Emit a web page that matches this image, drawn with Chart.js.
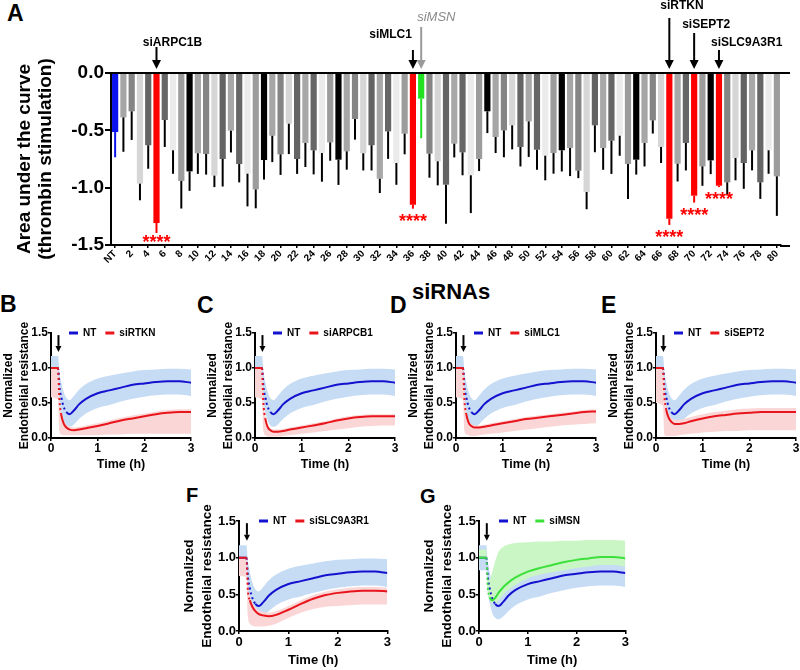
<!DOCTYPE html>
<html>
<head>
<meta charset="utf-8">
<script src="https://cdn.jsdelivr.net/npm/chart.js@4.4.1/dist/chart.umd.min.js"></script>
<style>
  body { margin: 0; background: #fff; width: 800px; height: 670px; position: relative; overflow: hidden;
         font-family: 'Liberation Sans', Arial, sans-serif; }
  canvas { position: absolute; }
  .tag { position: absolute; font-weight: bold; line-height: 1; color: #000; white-space: nowrap; }
</style>
</head>
<body>
<div class="tag" style="left:7px;top:2px;font-size:23px">A</div>
<div class="tag" style="left:0px;top:293px;font-size:23px">B</div>
<div class="tag" style="left:197px;top:294px;font-size:23px">C</div>
<div class="tag" style="left:390px;top:294px;font-size:23px">D</div>
<div class="tag" style="left:601px;top:294px;font-size:23px">E</div>
<div class="tag" style="left:186px;top:485px;font-size:20px">F</div>
<div class="tag" style="left:420px;top:486px;font-size:20px">G</div>
<div class="tag" style="left:412px;top:281px;font-size:22px">siRNAs</div>

<canvas id="auc" width="800" height="275" style="left:0;top:0"></canvas>
<canvas id="panelB" width="195" height="190" style="left:0;top:290px"></canvas>
<canvas id="panelC" width="195" height="190" style="left:204px;top:290px"></canvas>
<canvas id="panelD" width="195" height="190" style="left:405px;top:290px"></canvas>
<canvas id="panelE" width="195" height="190" style="left:605px;top:290px"></canvas>
<canvas id="panelF" width="211" height="188" style="left:181px;top:481px"></canvas>
<canvas id="panelG" width="209" height="188" style="left:421px;top:481px"></canvas>

<script>
// ---- panel A: area under the curve per siRNA ----
const sirnaLabels = ['NT','1','2','3','4','5','6','7','8','9','10','11','12','13','14','15','16','17','18','19','20',
  '21','22','23','24','25','26','27','28','29','30','31','32','33','34','35','36','37','38','39','40',
  '41','42','43','44','45','46','47','48','49','50','51','52','53','54','55','56','57','58','59','60',
  '61','62','63','64','65','66','67','68','69','70','71','72','73','74','75','76','77','78','79','80'];
const aucMean = [-0.515, -0.387, -0.334, -0.965, -0.63, -1.308, -0.41, -0.674, -0.942, -0.858, -0.70,
  -0.706, -0.895, -0.75, -0.503, -0.794, -0.878, -1.015, -0.759, -0.547, -0.709,
  -0.442, -0.75, -0.61, -0.674, -0.698, -0.605, -0.756, -0.683, -0.401, -0.70,
  -0.63, -0.922, -0.509, -0.785, -0.529, -1.148, -0.224, -0.703, -0.77, -0.974,
  -0.616, -0.692, -0.892, -0.75, -0.334, -0.558, -0.50, -0.456, -0.645, -0.422,
  -0.669, -0.721, -0.698, -0.674, -0.654, -0.852, -1.038, -0.456, -0.654, -0.59,
  -0.547, -0.794, -0.756, -0.61, -0.413, -0.645, -1.27, -0.791, -0.61, -1.07,
  -0.814, -0.762, -0.983, -0.953, -0.741, -0.785, -0.674, -0.953, -0.674, -0.901];
const aucErr = [0.22, 0.30, 0.25, 0.145, 0.205, 0.087, 0.235, 0.205, 0.24, 0.17, 0.18,
  0.18, 0.10, 0.24, 0.19, 0.16, 0.285, 0.165, 0.17, 0.23, 0.18,
  0.265, 0.13, 0.21, 0.21, 0.25, 0.16, 0.22, 0.16, 0.18, 0.15,
  0.22, 0.125, 0.24, 0.19, 0.18, 0.035, 0.345, 0.21, 0.21, 0.34,
  0.12, 0.20, 0.33, 0.105, 0.19, 0.14, 0.235, 0.21, 0.17, 0.31,
  0.175, 0.215, 0.18, 0.185, 0.245, 0.065, 0.15, 0.235, 0.19, 0.29,
  0.175, 0.305, 0.13, 0.205, 0.115, 0.14, 0.055, 0.155, 0.24, 0.06,
  0.17, 0.12, 0.012, 0.11, 0.195, 0.225, 0.175, 0.145, 0.205, 0.345];
const hitBars = [5, 36, 67, 70, 73];
const msnBar = 37;
const callouts = [
  { bar: 5,  text: 'siARPC1B',   dx: 16,  align: 'center', ty: 43, top: 47 },
  { bar: 36, text: 'siMLC1',     dx: -1,  align: 'right',  ty: 35, top: 50 },
  { bar: 37, text: 'siMSN',      dx: -4,  align: 'left',   ty: 17, top: 27, muted: true },
  { bar: 67, text: 'siRTKN',     dx: -9,  align: 'left',   ty: 6,  top: 18 },
  { bar: 70, text: 'siSEPT2',    dx: -12, align: 'left',   ty: 25, top: 33 },
  { bar: 73, text: 'siSLC9A3R1', dx: -8,  align: 'left',   ty: 43, top: 50 }
];

// ---- panels B-G: normalized resistance over time ----
const times  = [0, 0.15, 0.18, 0.22, 0.27, 0.33, 0.4, 0.5, 0.6, 0.75, 1.0, 1.25, 1.5, 1.75, 2.0, 2.25, 2.5, 2.75, 3.0];
const ntMean = [1.0, 1.0, 0.74, 0.58, 0.45, 0.37, 0.34, 0.40, 0.48, 0.56, 0.64, 0.68, 0.72, 0.76, 0.78, 0.80, 0.81, 0.81, 0.79];
const ntHigh = [1.17, 1.17, 0.95, 0.80, 0.66, 0.57, 0.54, 0.61, 0.69, 0.77, 0.85, 0.89, 0.92, 0.95, 0.97, 0.98, 0.99, 0.99, 0.98];
const ntLow  = [0.83, 0.83, 0.53, 0.38, 0.25, 0.18, 0.16, 0.20, 0.27, 0.35, 0.43, 0.47, 0.52, 0.56, 0.59, 0.61, 0.62, 0.62, 0.60];

const rtknMean = [1.0, 1.0, 0.55, 0.33, 0.21, 0.15, 0.12, 0.11, 0.12, 0.14, 0.17, 0.21, 0.25, 0.28, 0.31, 0.34, 0.36, 0.37, 0.37];
const rtknHigh = [1.0, 1.0, 0.58, 0.37, 0.25, 0.19, 0.16, 0.15, 0.16, 0.18, 0.21, 0.25, 0.29, 0.32, 0.35, 0.38, 0.40, 0.41, 0.41];
const rtknLow  = [0.58, 0.55, 0.10, 0.05, 0.04, 0.04, 0.04, 0.04, 0.04, 0.04, 0.04, 0.05, 0.05, 0.06, 0.06, 0.06, 0.06, 0.06, 0.06];

const arpcMean = [1.0, 1.0, 0.50, 0.28, 0.16, 0.11, 0.09, 0.09, 0.10, 0.12, 0.15, 0.18, 0.21, 0.25, 0.28, 0.30, 0.31, 0.31, 0.31];
const arpcHigh = [1.0, 1.0, 0.53, 0.31, 0.19, 0.14, 0.12, 0.12, 0.13, 0.15, 0.18, 0.21, 0.24, 0.28, 0.31, 0.33, 0.34, 0.34, 0.34];
const arpcLow  = [0.58, 0.55, 0.10, 0.04, 0.02, 0.02, 0.02, 0.02, 0.03, 0.04, 0.06, 0.08, 0.10, 0.12, 0.14, 0.16, 0.17, 0.18, 0.18];

const mlcMean = [1.0, 1.0, 0.55, 0.34, 0.22, 0.17, 0.15, 0.15, 0.16, 0.18, 0.21, 0.24, 0.27, 0.29, 0.31, 0.33, 0.35, 0.37, 0.38];
const mlcHigh = [1.0, 1.0, 0.58, 0.37, 0.25, 0.20, 0.18, 0.18, 0.19, 0.21, 0.24, 0.27, 0.30, 0.32, 0.34, 0.36, 0.38, 0.40, 0.41];
const mlcLow  = [0.58, 0.55, 0.10, 0.05, 0.04, 0.03, 0.03, 0.04, 0.05, 0.06, 0.08, 0.10, 0.12, 0.14, 0.16, 0.18, 0.19, 0.20, 0.21];

const septMean = [1.0, 1.0, 0.60, 0.40, 0.29, 0.23, 0.20, 0.20, 0.21, 0.24, 0.28, 0.31, 0.33, 0.35, 0.36, 0.37, 0.37, 0.37, 0.37];
const septHigh = [1.0, 1.0, 0.65, 0.46, 0.35, 0.29, 0.26, 0.26, 0.27, 0.30, 0.34, 0.37, 0.39, 0.41, 0.42, 0.43, 0.43, 0.43, 0.43];
const septLow  = [0.50, 0.45, 0.05, 0.03, 0.03, 0.03, 0.03, 0.04, 0.05, 0.06, 0.08, 0.09, 0.10, 0.10, 0.11, 0.11, 0.11, 0.11, 0.11];

const slcMean = [1.0, 1.0, 0.55, 0.42, 0.33, 0.27, 0.23, 0.21, 0.20, 0.22, 0.29, 0.37, 0.44, 0.49, 0.52, 0.54, 0.55, 0.55, 0.54];
const slcHigh = [1.0, 1.0, 0.60, 0.47, 0.38, 0.32, 0.28, 0.26, 0.25, 0.27, 0.34, 0.42, 0.49, 0.54, 0.57, 0.59, 0.60, 0.60, 0.59];
const slcLow  = [0.75, 0.73, 0.20, 0.10, 0.07, 0.06, 0.06, 0.06, 0.07, 0.10, 0.18, 0.25, 0.30, 0.33, 0.34, 0.35, 0.36, 0.36, 0.36];

const msnMean = [1.0, 1.0, 0.60, 0.46, 0.42, 0.45, 0.52, 0.60, 0.66, 0.73, 0.81, 0.86, 0.90, 0.94, 0.97, 0.99, 1.01, 1.01, 0.99];
const msnHigh = [1.11, 1.11, 0.75, 0.70, 0.80, 0.95, 1.08, 1.15, 1.18, 1.20, 1.21, 1.22, 1.22, 1.23, 1.23, 1.24, 1.24, 1.24, 1.23];
const msnLow  = [1.0, 1.0, 0.55, 0.42, 0.38, 0.38, 0.42, 0.50, 0.56, 0.63, 0.72, 0.77, 0.80, 0.83, 0.86, 0.88, 0.90, 0.90, 0.88];

const FONT = "'Liberation Sans', Arial, sans-serif";
const BLUE = '#1212cf', BLUE_BAND = '#c6dbf4';
const RED = '#e8151c', RED_BAND = '#fbd6d6';
const GREEN = '#3be03b', GREEN_BAND = '#caf6c6';
const GRAYS = ['#000000', '#a6a6a6', '#858585', '#d6d6d6', '#646464', '#a8a8a8', '#666666', '#ebebeb', '#9c9c9c'];

Chart.defaults.font.family = FONT;
Chart.defaults.color = '#000';
Chart.defaults.animation = false;

function barColor(i) {
  if (i === 0) return '#0a12ee';
  if (hitBars.includes(i)) return '#ff0000';
  if (i === msnBar) return '#22e022';
  return GRAYS[i % 9];
}
function errColor(i) {
  if (i === 0) return '#0a12ee';
  if (hitBars.includes(i)) return '#ff0000';
  if (i === msnBar) return '#22e022';
  return '#000';
}

function drawArrow(ctx, x, yTop, yTip, color, head) {
  ctx.save();
  ctx.strokeStyle = color; ctx.fillStyle = color; ctx.lineWidth = 2;
  ctx.beginPath(); ctx.moveTo(x, yTop); ctx.lineTo(x, yTip - head); ctx.stroke();
  ctx.beginPath();
  ctx.moveTo(x - head * 0.5, yTip - head); ctx.lineTo(x + head * 0.5, yTip - head); ctx.lineTo(x, yTip);
  ctx.closePath(); ctx.fill();
  ctx.restore();
}

const aucExtras = {
  id: 'aucExtras',
  afterDatasetsDraw(chart) {
    const ctx = chart.ctx, y = chart.scales.y, meta = chart.getDatasetMeta(0);
    ctx.save();
    ctx.lineWidth = 2;
    meta.data.forEach((bar, i) => {
      ctx.strokeStyle = errColor(i);
      ctx.beginPath();
      ctx.moveTo(bar.x, y.getPixelForValue(aucMean[i]));
      ctx.lineTo(bar.x, y.getPixelForValue(aucMean[i] - aucErr[i]));
      ctx.stroke();
    });
    ctx.restore();
  },
  afterDraw(chart) {
    const ctx = chart.ctx, y = chart.scales.y, area = chart.chartArea;
    const meta = chart.getDatasetMeta(0);
    ctx.save();
    ctx.strokeStyle = '#000'; ctx.lineWidth = 2;
    const y0 = y.getPixelForValue(0);
    ctx.beginPath(); ctx.moveTo(area.left, y0); ctx.lineTo(area.right + 9, y0); ctx.stroke();
    ctx.beginPath(); ctx.moveTo(area.right - 1, area.bottom + 1); ctx.lineTo(area.right + 9, area.bottom + 1); ctx.stroke();

    callouts.forEach(c => {
      const x = meta.data[c.bar].x;
      drawArrow(ctx, x, c.top, y0 - 4, c.muted ? '#9a9a9a' : '#000', 9);
      ctx.fillStyle = c.muted ? '#8a8a8a' : '#000';
      ctx.font = c.muted ? `italic 13px ${FONT}` : `bold 12px ${FONT}`;
      ctx.textAlign = c.align; ctx.textBaseline = 'middle';
      ctx.fillText(c.text, x + c.dx, c.ty);
    });

    ctx.fillStyle = '#ff0000';
    ctx.font = `bold 18px ${FONT}`;
    ctx.textAlign = 'center'; ctx.textBaseline = 'middle';
    hitBars.forEach(i => {
      const yEnd = y.getPixelForValue(aucMean[i] - aucErr[i]);
      ctx.fillText('****', meta.data[i].x, Math.min(yEnd + 13, area.bottom - 2));
    });
    ctx.restore();
  }
};

new Chart(document.getElementById('auc'), {
  type: 'bar',
  data: {
    labels: sirnaLabels,
    datasets: [{
      data: aucMean,
      backgroundColor: sirnaLabels.map((_, i) => barColor(i)),
      borderWidth: 0,
      categoryPercentage: 1,
      barPercentage: 0.75
    }]
  },
  options: {
    responsive: false,
    devicePixelRatio: 1,
    layout: { padding: { top: 73, right: 19, left: 0, bottom: 0 } },
    plugins: { legend: { display: false }, tooltip: { enabled: false } },
    scales: {
      x: {
        offset: true,
        grid: { offset: false, drawOnChartArea: false, tickLength: 3, lineWidth: 1.5,
                color: c => (c.index % 2 === 0 ? '#000' : 'rgba(0,0,0,0)') },
        border: { color: '#000', width: 2 },
        ticks: {
          autoSkip: false, minRotation: 45, maxRotation: 45, padding: 0,
          font: { size: 10, weight: 'bold' },
          callback: function (v, i) { return i % 2 === 0 ? this.getLabelForValue(v) : ''; }
        },
        afterFit: s => { s.height = 30; }
      },
      y: {
        min: -1.5, max: 0,
        grid: { drawOnChartArea: false, tickLength: 6, color: '#000', lineWidth: 2 },
        border: { color: '#000', width: 2 },
        ticks: { stepSize: 0.5, padding: 1, font: { size: 19, weight: 'bold' }, callback: v => v.toFixed(1) },
        title: {
          display: true, text: ['Area under the curve', '(thrombin stimulation)'],
          font: { size: 19, weight: 'bold', lineHeight: 1.1 }, padding: { top: 14, bottom: 0 }
        },
        afterFit: s => { s.width = 111; }
      }
    }
  },
  plugins: [aucExtras]
});

// ---- time-course panels ----
const panelExtras = {
  id: 'panelExtras',
  afterDraw(chart, args, opts) {
    const ctx = chart.ctx, area = chart.chartArea, x = chart.scales.x, y = chart.scales.y;
    drawArrow(ctx, x.getPixelForValue(0.16), y.getPixelForValue(1.47), y.getPixelForValue(1.23), '#000', 6);
    ctx.save();
    ctx.font = `bold 10px ${FONT}`;
    ctx.textBaseline = 'middle'; ctx.textAlign = 'left';
    let px = area.left + opts.inset;
    opts.items.forEach(it => {
      ctx.strokeStyle = it.color; ctx.lineWidth = 3;
      ctx.beginPath(); ctx.moveTo(px, area.top); ctx.lineTo(px + 9, area.top); ctx.stroke();
      px += 14;
      ctx.fillStyle = '#000';
      ctx.fillText(it.text, px, area.top);
      px += ctx.measureText(it.text).width + 9;
    });
    ctx.restore();
  }
};

function pts(arr) { return times.map((t, i) => ({ x: t, y: arr[i] })); }

function timePanel(id, name, mean, high, low, color, band, row) {
  const big = row === 2;
  const dropDash = limit => ({ borderDash: c => (c.p0.parsed.x >= 0.15 && c.p1.parsed.x <= limit ? [2, 3] : undefined) });
  const edge = { pointRadius: 0, borderWidth: 0, cubicInterpolationMode: 'monotone' };
  new Chart(document.getElementById(id), {
    type: 'line',
    data: {
      datasets: [
        { label: name, data: pts(mean), borderColor: color, borderWidth: 2, pointRadius: 0,
          cubicInterpolationMode: 'monotone', segment: dropDash(0.22) },
        { label: 'NT', data: pts(ntMean), borderColor: BLUE, borderWidth: 2, pointRadius: 0,
          cubicInterpolationMode: 'monotone', segment: dropDash(0.33) },
        { data: pts(high), fill: '+1', backgroundColor: band, ...edge },
        { data: pts(low), fill: false, ...edge },
        { data: pts(ntHigh), fill: '+1', backgroundColor: BLUE_BAND, ...edge },
        { data: pts(ntLow), fill: false, ...edge }
      ]
    },
    options: {
      responsive: false,
      devicePixelRatio: 1,
      layout: { padding: { top: big ? 40 : 43, right: 4, left: 0, bottom: 0 } },
      plugins: {
        legend: { display: false }, tooltip: { enabled: false },
        panelExtras: { inset: big ? 20 : 18, items: [{ text: 'NT', color: BLUE }, { text: name, color: color }] }
      },
      scales: {
        x: {
          type: 'linear', min: 0, max: 3,
          grid: { drawOnChartArea: false, tickLength: 3, color: '#000', lineWidth: 1.5 },
          border: { color: '#000', width: 2 },
          ticks: { stepSize: 1, padding: big ? 1 : 0, font: { size: big ? 13 : 12, weight: 'bold' } },
          title: { display: true, text: 'Time (h)', font: { size: big ? 13 : 12.5, weight: 'bold', lineHeight: 1.2 },
                   padding: { top: 0, bottom: big ? 1 : 7.5 } },
          afterFit: s => { s.height = big ? 38 : 42; }
        },
        y: {
          min: 0, max: 1.5,
          grid: { drawOnChartArea: false, tickLength: 3, color: '#000', lineWidth: 1.5 },
          border: { color: '#000', width: 2 },
          ticks: { stepSize: 0.5, padding: 0, font: { size: big ? 13 : 12, weight: 'bold' }, callback: v => v.toFixed(1) },
          title: { display: true, text: ['Normalized', 'Endothelial resistance'],
                   font: { size: big ? 13.5 : 12, weight: 'bold', lineHeight: big ? 1.3 : 1.375 },
                   padding: { top: 0, bottom: 0 } },
          afterFit: s => { s.width = big ? 58 : 51; }
        }
      }
    },
    plugins: [panelExtras]
  });
}

timePanel('panelB', 'siRTKN', rtknMean, rtknHigh, rtknLow, RED, RED_BAND, 1);
timePanel('panelC', 'siARPCB1', arpcMean, arpcHigh, arpcLow, RED, RED_BAND, 1);
timePanel('panelD', 'siMLC1', mlcMean, mlcHigh, mlcLow, RED, RED_BAND, 1);
timePanel('panelE', 'siSEPT2', septMean, septHigh, septLow, RED, RED_BAND, 1);
timePanel('panelF', 'siSLC9A3R1', slcMean, slcHigh, slcLow, RED, RED_BAND, 2);
timePanel('panelG', 'siMSN', msnMean, msnHigh, msnLow, GREEN, GREEN_BAND, 2);
</script>
</body>
</html>
